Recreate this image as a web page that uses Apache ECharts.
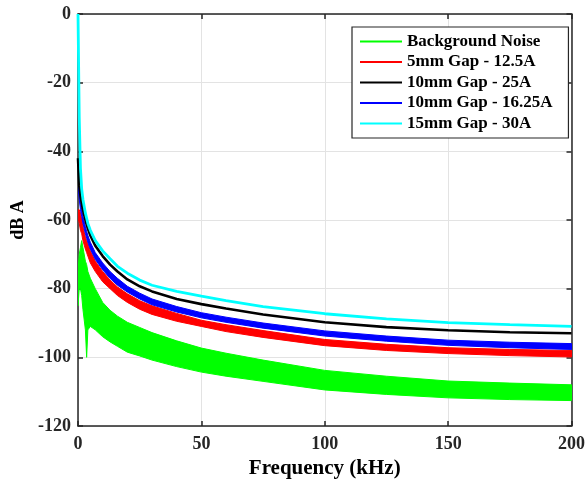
<!DOCTYPE html>
<html>
<head>
<meta charset="utf-8">
<script src="https://cdn.jsdelivr.net/npm/echarts@6/dist/echarts.min.js"></script>
<style>html,body{margin:0;padding:0;background:#fff}#c{width:588px;height:485px}</style>
</head>
<body>
<div id="c"></div>
<script>
// Frequency samples (kHz)
var FREQ = [0, 0.5, 1, 1.5, 2, 3, 3.5, 4, 5, 7, 10, 13, 16, 20, 25, 30, 40, 50, 60, 75, 100, 125, 150, 175, 200];
// Tick labels
var X_TICKS = [0, 50, 100, 150, 200];
var Y_TICKS = [-120, -100, -80, -60, -40, -20, 0];
var SERIES_NAMES = ['Background Noise', '5mm Gap - 12.5A', '10mm Gap - 25A', '10mm Gap - 16.25A', '15mm Gap - 30A'];
// Background noise band (upper / lower envelope, dB A)
var noiseUpper = [-75, -70, -68, -66, -68, -72, -73, -75, -77, -80, -84, -86.3, -88, -89.8, -91.3, -92.8, -95.2, -97.3, -98.8, -100.8, -103.8, -105.5, -106.9, -107.5, -108];
var noiseLower = [-85, -80, -80, -82, -86, -92, -100, -92, -91, -92, -94, -95.5, -96.8, -98.5, -99.6, -100.8, -102.7, -104.3, -105.5, -107, -109.5, -110.8, -111.8, -112.3, -112.6];
// 5mm Gap - 12.5A band
var gap5Upper = [-57, -57, -58, -60, -62, -65, -66, -67, -69, -72, -75, -77.5, -79.5, -81.5, -83.5, -85, -87.2, -89.2, -90.5, -92.2, -94.8, -96.2, -97.2, -97.7, -98];
var gap5Lower = [-59, -61, -63, -64, -66, -68.5, -69.5, -70.5, -72.5, -75, -78, -80, -82, -84, -86, -87.5, -89.5, -91, -92.5, -94.2, -96.6, -98, -98.9, -99.5, -99.9];
// 10mm Gap - 25A line
var gap10a25 = [-42, -50, -53, -55, -57, -60, -61.3, -62.5, -64.5, -67.5, -70.5, -73, -75, -77.3, -79.3, -80.8, -83, -84.5, -85.8, -87.5, -89.8, -91.2, -92.1, -92.7, -93];
// 10mm Gap - 16.25A band
var gap10Upper = [-49, -52, -55, -57, -59, -62, -63.3, -64.5, -66.5, -69.5, -72.5, -75, -77, -79.3, -81.3, -83, -85.2, -87, -88.3, -90, -92.3, -93.8, -95, -95.6, -96];
var gap10Lower = [-50, -54, -57, -59, -61, -64, -65.3, -66.5, -68.5, -71.5, -74.5, -77, -79, -81, -83, -84.7, -86.8, -88.5, -89.8, -91.5, -93.8, -95.3, -96.5, -97.2, -97.7];
// 15mm Gap - 30A line
var gap15a30 = [0, -30, -45, -51, -54, -58, -59.5, -61, -63, -66, -69, -71.3, -73.5, -75.5, -77.5, -79, -80.8, -82.2, -83.5, -85.2, -87.3, -88.8, -89.9, -90.5, -91];

function pairs(vals) { return FREQ.map(function (f, i) { return [f, vals[i]]; }); }

function band(name, color, up, lo) {
  return {
    name: name, type: 'custom', clip: true,
    itemStyle: { color: color },
    encode: { x: 0, y: [1, 2] },
    data: FREQ.map(function (f, i) { return [f, up[i], lo[i]]; }),
    renderItem: function (params, api) {
      if (params.dataIndex !== 0) return null;
      var pts = [];
      for (var i = 0; i < FREQ.length; i++) pts.push(api.coord([FREQ[i], up[i]]));
      for (var j = FREQ.length - 1; j >= 0; j--) pts.push(api.coord([FREQ[j], lo[j]]));
      return {
        type: 'polygon',
        shape: { points: pts },
        style: { fill: color, stroke: color, lineWidth: 1 }
      };
    }
  };
}

var FONT = 'Liberation Serif, Times New Roman, serif';
var axisLineStyle = { color: '#262626', width: 1.5 };

var series = [
  band(SERIES_NAMES[0], '#00ff00', noiseUpper, noiseLower),
  band(SERIES_NAMES[1], '#ff0000', gap5Upper, gap5Lower),
  { name: SERIES_NAMES[2], type: 'line', data: pairs(gap10a25), symbol: 'none',
    lineStyle: { color: '#000000', width: 2.6 }, itemStyle: { color: '#000000' } },
  band(SERIES_NAMES[3], '#0000ff', gap10Upper, gap10Lower),
  { name: SERIES_NAMES[4], type: 'line', data: pairs(gap15a30), symbol: 'none',
    lineStyle: { color: '#00ffff', width: 2.8 }, itemStyle: { color: '#00ffff' } }
];

var chart = echarts.init(document.getElementById('c'), null, { renderer: 'canvas' });
chart.setOption({
  animation: false,
  backgroundColor: '#ffffff',
  grid: { left: 78, right: 14, top: 14, bottom: 59, containLabel: false },
  legend: {
    data: SERIES_NAMES,
    orient: 'vertical',
    left: 352, top: 27,
    icon: 'rect', itemWidth: 42, itemHeight: 2, itemGap: 3.5,
    padding: [6, 16, 6, 8],
    borderColor: '#262626', borderWidth: 1.2, backgroundColor: '#ffffff',
    textStyle: { fontFamily: FONT, fontWeight: 'bold', fontSize: 17, lineHeight: 17, color: '#000' },
    selectedMode: false
  },
  xAxis: [{
    type: 'value', min: X_TICKS[0], max: X_TICKS[X_TICKS.length - 1], interval: 50,
    name: 'Frequency (kHz)', nameLocation: 'middle', nameGap: 26,
    nameTextStyle: { fontFamily: FONT, fontWeight: 'bold', fontSize: 21, color: '#000' },
    axisLine: { show: true, onZero: false, lineStyle: axisLineStyle },
    axisTick: { show: true, inside: true, length: 5, lineStyle: axisLineStyle },
    axisLabel: { fontFamily: FONT, fontWeight: 'bold', fontSize: 18, color: '#262626', margin: 9 },
    splitLine: { show: true, lineStyle: { color: '#e3e3e3', width: 1 } }
  }, {
    type: 'value', position: 'top', min: X_TICKS[0], max: X_TICKS[X_TICKS.length - 1], interval: 50,
    axisLine: { show: true, onZero: false, lineStyle: axisLineStyle },
    axisTick: { show: true, inside: true, length: 5, lineStyle: axisLineStyle },
    axisLabel: { show: false }, splitLine: { show: false }
  }],
  yAxis: [{
    type: 'value', min: Y_TICKS[0], max: Y_TICKS[Y_TICKS.length - 1], interval: 20,
    name: 'dB A', nameLocation: 'middle', nameGap: 44, nameRotate: 90,
    nameTextStyle: { fontFamily: FONT, fontWeight: 'bold', fontSize: 18, color: '#000' },
    axisLine: { show: true, onZero: false, lineStyle: axisLineStyle },
    axisTick: { show: true, inside: true, length: 5, lineStyle: axisLineStyle },
    axisLabel: { fontFamily: FONT, fontWeight: 'bold', fontSize: 18, color: '#262626', margin: 7 },
    splitLine: { show: true, lineStyle: { color: '#e3e3e3', width: 1 } }
  }, {
    type: 'value', position: 'right', min: Y_TICKS[0], max: Y_TICKS[Y_TICKS.length - 1], interval: 20,
    axisLine: { show: true, onZero: false, lineStyle: axisLineStyle },
    axisTick: { show: true, inside: true, length: 5, lineStyle: axisLineStyle },
    axisLabel: { show: false }, splitLine: { show: false }
  }],
  series: series
});
</script>
</body>
</html>
